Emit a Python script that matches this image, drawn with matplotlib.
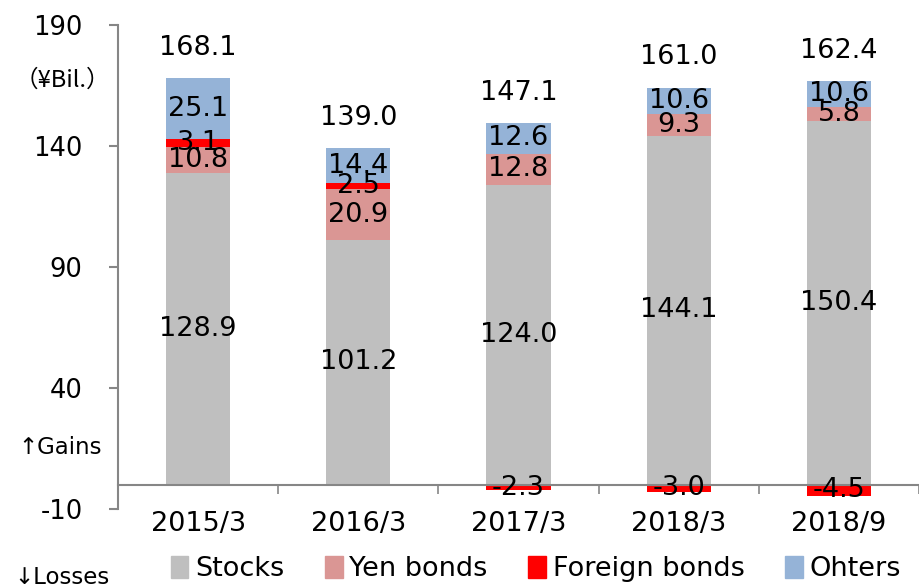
import matplotlib

matplotlib.use("Agg")

import matplotlib.pyplot as plt
import numpy as np
from matplotlib.patches import Patch

periods = ["2015/3", "2016/3", "2017/3", "2018/3", "2018/9"]
stocks = [128.9, 101.2, 124.0, 144.1, 150.4]
yen_bonds = [10.8, 20.9, 12.8, 9.3, 5.8]
foreign_bonds = [3.1, 2.5, -2.3, -3.0, -4.5]
others = [25.1, 14.4, 12.6, 10.6, 10.6]
totals = [168.1, 139.0, 147.1, 161.0, 162.4]
y_ticks = [-10, 40, 90, 140, 190]

colors = {
    "Stocks": "#bfbfbf",
    "Yen bonds": "#da9694",
    "Foreign bonds": "#ff0000",
    "Ohters": "#95b3d7",
}

plt.rcParams["font.family"] = ["DejaVu Sans", "Noto Sans CJK JP"]
plt.rcParams["axes.unicode_minus"] = False
FS = 19.5

fig = plt.figure(figsize=(9.19, 5.87), dpi=100)
ax = fig.add_axes([118 / 919, 1 - 509 / 587, 1 - 118 / 919, 484 / 587])

x = np.arange(len(periods))
w = 0.4

st = np.array(stocks)
yb = np.array(yen_bonds)
fb = np.array(foreign_bonds)
ot = np.array(others)

# positive foreign bonds sit on top of yen bonds, negative ones hang below zero
fb_bottom = np.where(fb >= 0, st + yb, 0)
pos_top = st + yb + np.clip(fb, 0, None)

segments = [
    ("Stocks", st, np.zeros_like(st)),
    ("Yen bonds", yb, st),
    ("Foreign bonds", fb, fb_bottom),
    ("Ohters", ot, pos_top),
]
for name, vals, bottom in segments:
    ax.bar(x, vals, w, bottom=bottom, color=colors[name], zorder=2)
    for xi, v, b in zip(x, vals, bottom):
        ax.text(xi, b + v / 2, f"{v:.1f}", ha="center", va="center",
                fontsize=FS, zorder=4)

for xi, top, t in zip(x, pos_top + ot, totals):
    ax.annotate(f"{t:.1f}", (xi, top), xytext=(0, 22), textcoords="offset points",
                ha="center", va="center", fontsize=FS)

ax.set_ylim(-10, 190)
ax.set_xlim(-0.5, -0.5 + (919 - 118) / 164)
ax.set_yticks(y_ticks)
ax.tick_params(axis="y", length=6.5, width=1.5, color="#868686", pad=19,
               labelsize=18.5)

for s in ["top", "right"]:
    ax.spines[s].set_visible(False)
ax.spines["left"].set_color("#868686")
ax.spines["left"].set_linewidth(1.5)
ax.spines["bottom"].set_position(("data", 0))
ax.spines["bottom"].set_color("#868686")
ax.spines["bottom"].set_linewidth(1.5)
ax.spines["bottom"].set_zorder(3)

ax.set_xticks(x)
ax.set_xticklabels(periods)
ax.set_xticks(np.arange(len(periods) + 1) - 0.5, minor=True)
ax.tick_params(axis="x", which="major", length=0, pad=19, labelsize=FS)
ax.tick_params(axis="x", which="minor", length=6.5, width=1.2, color="#868686")

fig.text(110 / 919, 1 - 80 / 587, "（¥Bil.）", ha="right", va="center", fontsize=17,
         family=["Noto Sans CJK JP", "DejaVu Sans"])
fig.text(18 / 919, 1 - 448 / 587, "↑Gains", ha="left", va="center", fontsize=16.5)
fig.text(14 / 919, 1 - 577 / 587, "↓Losses", ha="left", va="center", fontsize=16.5)

handles = [Patch(color=c, label=n) for n, c in colors.items()]
fig.legend(handles=handles, loc="center", bbox_to_anchor=(536 / 919, 1 - 569 / 587),
           ncol=4, frameon=False, fontsize=FS, handlelength=0.65, handleheight=0.85,
           handletextpad=0.25, columnspacing=1.5, borderpad=0)

fig.savefig("out.png", dpi=100)
plt.close(fig)
